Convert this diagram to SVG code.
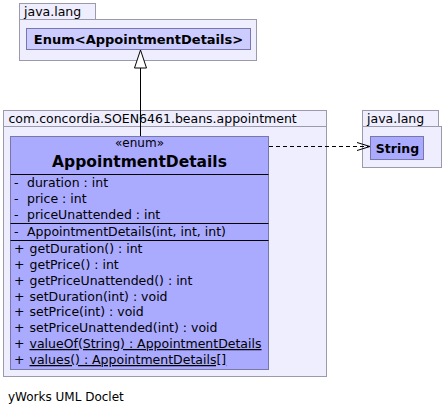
<svg xmlns="http://www.w3.org/2000/svg" width="444" height="415" viewBox="0 0 444 415">
<style>
text{font-family:"DejaVu Sans",Verdana,sans-serif;font-size:12.5px;fill:#000}
.pkg{fill:#eeeeff;stroke:#9a9aaa;stroke-width:1}
.cls{fill:#aaaaff;stroke:#7777aa;stroke-width:1}
.inner{fill:#ccccff;stroke:#7777aa;stroke-width:1}
.b{font-weight:bold}
.sep{stroke:#000;stroke-width:1}
.u{text-decoration:underline}
</style>
<rect width="444" height="415" fill="#fff"/>
<g id="pkg-java-lang-top">
<rect class="pkg" x="19.5" y="3.5" width="76" height="16"/>
<rect class="pkg" x="19.5" y="19.5" width="237" height="41"/>
<text x="24" y="16">java.lang</text>
</g>
<g id="Enum">
<rect class="inner" x="26.5" y="28.5" width="224" height="21"/>
<text class="b" x="138.5" y="44" text-anchor="middle" style="font-size:13px">Enum&lt;AppointmentDetails&gt;</text>
</g>
<g id="pkg-appointment">
<rect class="pkg" x="3.5" y="110.5" width="323" height="16"/>
<rect class="pkg" x="3.5" y="126.5" width="323" height="250"/>
<text x="8.5" y="123">com.concordia.SOEN6461.beans.appointment</text>
</g>
<g id="AppointmentDetails">
<rect class="cls" x="10.5" y="136.5" width="258" height="233"/>
<text x="139.5" y="147" text-anchor="middle" style="font-size:12px">«enum»</text>
<text class="b" x="139.5" y="167" text-anchor="middle" style="font-size:15.5px">AppointmentDetails</text>
<line class="sep" x1="10.5" y1="174.5" x2="268.5" y2="174.5"/>
<text x="14" y="187">-</text><text x="27" y="187">duration : int</text>
<text x="14" y="203">-</text><text x="27" y="203">price : int</text>
<text x="14" y="219">-</text><text x="27" y="219">priceUnattended : int</text>
<line class="sep" x1="10.5" y1="223.5" x2="268.5" y2="223.5"/>
<text x="14" y="236">-</text><text x="27" y="236">AppointmentDetails(int, int, int)</text>
<line class="sep" x1="10.5" y1="240.5" x2="268.5" y2="240.5"/>
<text x="14" y="253">+</text><text x="29.5" y="253">getDuration() : int</text>
<text x="14" y="269">+</text><text x="29.5" y="269">getPrice() : int</text>
<text x="14" y="285">+</text><text x="29.5" y="285">getPriceUnattended() : int</text>
<text x="14" y="301">+</text><text x="29.5" y="301">setDuration(int) : void</text>
<text x="14" y="316">+</text><text x="29.5" y="316">setPrice(int) : void</text>
<text x="14" y="332">+</text><text x="29.5" y="332">setPriceUnattended(int) : void</text>
<text x="14" y="348">+</text><text class="u" x="29.5" y="348">valueOf(String) : AppointmentDetails</text>
<text x="14" y="364">+</text><text class="u" x="29.5" y="364">values() : AppointmentDetails[]</text>
</g>
<g id="pkg-java-lang-right">
<rect class="pkg" x="362.5" y="110.5" width="76" height="16"/>
<rect class="pkg" x="362.5" y="126.5" width="79" height="41"/>
<text x="367" y="123">java.lang</text>
</g>
<g id="String">
<rect class="cls" x="370.5" y="136.5" width="53" height="23"/>
<text class="b" x="397.5" y="153" text-anchor="middle">String</text>
</g>
<g id="connectors" fill="none" stroke="#000" stroke-width="1">
<line x1="140.5" y1="136" x2="140.5" y2="68"/>
<polygon points="140.5,50 134.5,68 146.5,68" fill="#fff"/>
<line x1="269" y1="146.5" x2="369" y2="146.5" stroke-dasharray="4,3"/>
<polyline points="357,142.5 370,146.5 357,150.5"/>
</g>
<text x="8" y="401" style="font-size:12px">yWorks UML Doclet</text>
</svg>
